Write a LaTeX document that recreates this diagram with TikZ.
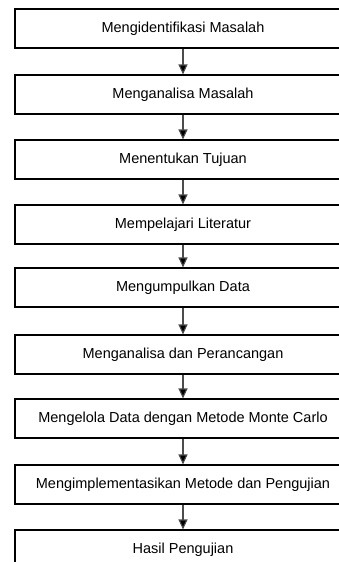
\documentclass[tikz,border=0pt]{standalone}
\usepackage{fontspec}
\setmainfont{Liberation Sans}
\usetikzlibrary{arrows.meta}
\begin{document}
\begin{tikzpicture}[x=1pt,y=-1pt,
  stepbox/.style={draw=black,line width=1.1pt,minimum width=336pt,minimum height=39pt,inner sep=0pt,font=\fontsize{14.5pt}{16pt}\selectfont},
  flow/.style={draw=black!70,line width=1.1pt,-{Triangle[length=10pt,width=9pt,fill=black]}}]
\useasboundingbox (0,0) rectangle (339,562);
\clip (0,0) rectangle (339,562);
\fill[white] (0,0) rectangle (339,562);
\node[stepbox] (b1) at (183,28.5) {Mengidentifikasi Masalah};
\node[stepbox] (b2) at (183,94.5) {Menganalisa Masalah};
\node[stepbox] (b3) at (183,159.5) {Menentukan Tujuan};
\node[stepbox] (b4) at (183,224.5) {Mempelajari Literatur};
\node[stepbox] (b5) at (183,287.5) {Mengumpulkan Data};
\node[stepbox] (b6) at (183,354.5) {Menganalisa dan Perancangan};
\node[stepbox] (b7) at (183,418.5) {Mengelola Data dengan Metode Monte Carlo};
\node[stepbox] (b8) at (183,484.5) {Mengimplementasikan Metode dan Pengujian};
\node[stepbox] (b9) at (183,549.5) {Hasil Pengujian};
\foreach \a/\b in {b1/b2,b2/b3,b3/b4,b4/b5,b5/b6,b6/b7,b7/b8,b8/b9}
  \draw[flow] (\a.south) -- (\b.north);
\end{tikzpicture}
\end{document}
